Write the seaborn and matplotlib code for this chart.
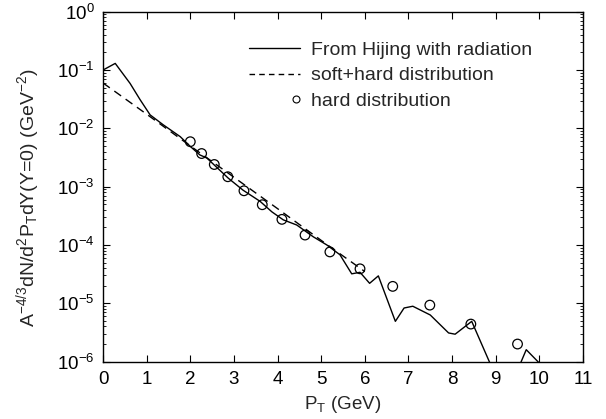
import numpy as np
import pandas as pd
import seaborn as sns
import matplotlib
matplotlib.use("Agg")
import matplotlib.pyplot as plt
from matplotlib.lines import Line2D
from matplotlib.legend_handler import HandlerLine2D
from matplotlib.ticker import FixedLocator, FixedFormatter

# ---- data ----
hijing_pt = [0.0, 0.28, 0.62, 0.85, 1.08, 1.38, 1.77, 2.0, 2.22, 2.38, 2.55, 2.87,
             3.21, 3.6, 3.87, 4.13, 4.44, 4.82, 5.13, 5.43, 5.70, 5.89, 6.11, 6.31,
             6.70, 6.90, 7.10, 7.50, 7.92, 8.07, 8.45, 9.0, 9.5, 9.70, 10.1]
hijing_val = [1.0e-1, 1.3e-1, 5.9e-2, 3.1e-2, 1.7e-2, 1.15e-2, 7.2e-3, 4.9e-3, 3.5e-3,
              3.1e-3, 2.35e-3, 1.4e-3, 8.7e-4, 5.6e-4, 3.7e-4, 2.7e-4, 2.2e-4, 1.38e-4,
              1.0e-4, 6.8e-5, 3.2e-5, 3.4e-5, 2.2e-5, 2.95e-5, 4.9e-6, 8.3e-6, 8.9e-6,
              6.3e-6, 3.1e-6, 2.95e-6, 4.9e-6, 5.6e-7, 7.1e-7, 1.6e-6, 7.9e-7]

softhard_pt = [0, 1, 2, 3, 4, 5, 6]
softhard_val = [6.0e-2, 1.75e-2, 5.0e-3, 1.45e-3, 4.2e-4, 1.2e-4, 3.5e-5]

hard_pt = [2.0, 2.26, 2.55, 2.86, 3.23, 3.65, 4.1, 4.63, 5.2, 5.89, 6.64, 7.49, 8.43, 9.5]
hard_val = [5.9e-3, 3.7e-3, 2.4e-3, 1.48e-3, 8.5e-4, 4.9e-4, 2.75e-4, 1.48e-4, 7.6e-5,
            3.9e-5, 1.95e-5, 9.3e-6, 4.4e-6, 2.0e-6]

x_ticks = list(range(0, 12))
y_ticks = [1e-6, 1e-5, 1e-4, 1e-3, 1e-2, 1e-1, 1e0]
y_ticklabels = [r"10$^{-6}$", r"10$^{-5}$", r"10$^{-4}$", r"10$^{-3}$",
                r"10$^{-2}$", r"10$^{-1}$", r"10$^{0}$"]
labels = ["From Hijing with radiation", "soft+hard distribution", "hard distribution"]

# ---- style ----
sns.set_style("ticks")
plt.rcParams["font.family"] = ["Liberation Sans", "DejaVu Sans"]
plt.rcParams["mathtext.fontset"] = "custom"
plt.rcParams["mathtext.rm"] = "Liberation Sans"
plt.rcParams["mathtext.it"] = "Liberation Sans:italic"
plt.rcParams["mathtext.sf"] = "Liberation Sans"
plt.rcParams["mathtext.default"] = "regular"

fig = plt.figure(figsize=(6.06, 4.19), dpi=100)
ax = fig.add_axes([0.170, 0.137, 0.792, 0.835])

df_h = pd.DataFrame({"pt": hijing_pt, "v": hijing_val})
df_s = pd.DataFrame({"pt": softhard_pt, "v": softhard_val})
df_c = pd.DataFrame({"pt": hard_pt, "v": hard_val})

sns.lineplot(data=df_h, x="pt", y="v", ax=ax, color="black", lw=1.0,
             estimator=None, sort=False)
sns.lineplot(data=df_s, x="pt", y="v", ax=ax, color="black", lw=1.0,
             estimator=None, sort=False, linestyle=(0, (6, 4)))
sns.scatterplot(data=df_c, x="pt", y="v", ax=ax, marker="o", s=48,
                facecolor="none", edgecolor="black", linewidth=0.9, zorder=3)

ax.set_yscale("log")
ax.set_xlim(0, 11)
ax.set_ylim(1e-6, 1)
ax.xaxis.set_major_locator(FixedLocator(x_ticks))
ax.xaxis.set_major_formatter(FixedFormatter([str(t) for t in x_ticks]))
ax.yaxis.set_major_locator(FixedLocator(y_ticks))
ax.yaxis.set_major_formatter(FixedFormatter(y_ticklabels))
minor = [m * d for d in y_ticks[:-1] for m in range(2, 10)]
ax.yaxis.set_minor_locator(FixedLocator(minor))
ax.yaxis.set_minor_formatter(plt.NullFormatter())

ax.tick_params(axis="both", which="both", direction="in", top=True, right=True,
               colors="black", labelsize=13.5)
ax.tick_params(axis="x", which="major", length=5, width=0.8, pad=7)
ax.tick_params(axis="y", which="major", length=5, width=0.8, pad=6)
ax.tick_params(axis="y", which="minor", length=2.5, width=0.6)
for sp in ax.spines.values():
    sp.set_visible(True)
    sp.set_linewidth(1.0)
    sp.set_color("black")

ax.set_xlabel(r"P$_T$ (GeV)", fontsize=13.5, labelpad=4)
ax.set_ylabel(r"A$^{-4/3}$dN/d$^2$P$_T$dY(Y=0) (GeV$^{-2}$)", fontsize=14)
ax.yaxis.set_label_coords(-0.128, 0.468)


class RightMarker(HandlerLine2D):
    def create_artists(self, legend, orig_handle, xdescent, ydescent, width, height,
                       fontsize, trans):
        arts = super().create_artists(legend, orig_handle, xdescent, ydescent, width,
                                      height, fontsize, trans)
        for a in arts:
            xd = np.asarray(a.get_xdata(), dtype=float)
            a.set_xdata(np.full_like(xd, width - xdescent - 3))
        return arts


h1 = Line2D([], [], color="black", lw=1.0)
h2 = Line2D([], [], color="black", lw=1.0, linestyle=(0, (4, 3)))
h3 = Line2D([], [], color="black", lw=0, marker="o", markersize=5,
            markerfacecolor="none", markeredgewidth=0.8)
leg = ax.legend([h1, h2, h3], labels, loc="upper left", bbox_to_anchor=(0.268, 0.965),
                frameon=False, fontsize=14, handlelength=2.6, handletextpad=0.6,
                labelspacing=0.4, numpoints=1, handler_map={h3: RightMarker()})

fig.savefig("out.png", dpi=100, facecolor="white")
